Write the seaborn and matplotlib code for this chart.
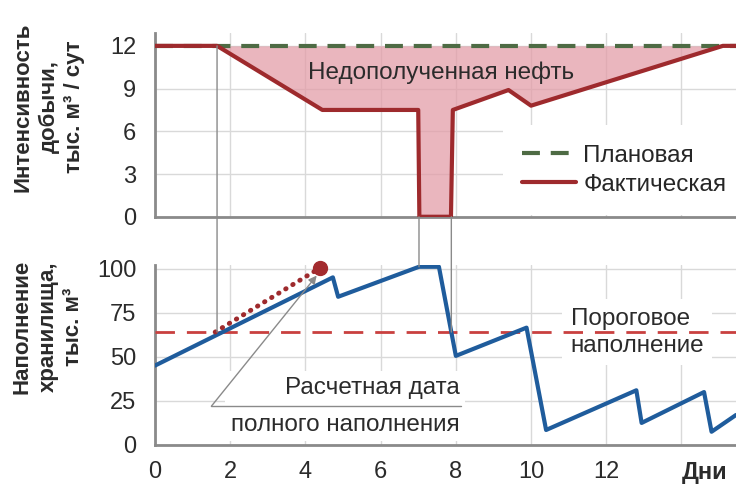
import numpy as np
import pandas as pd
import seaborn as sns
import matplotlib.pyplot as plt
from matplotlib.patches import ConnectionPatch

# top panel: production rate, thousand m3/day
day_fact = [0, 1.65, 4.45, 7.0, 7.03, 7.87, 7.92, 9.4, 10.0, 15.1, 15.45]
rate_fact = [12, 12, 7.5, 7.5, 0, 0, 7.5, 8.9, 7.8, 12, 12]
day_plan = [0, 15.45]
rate_plan = [12, 12]

# bottom panel: storage fill, thousand m3
day_store = [0, 4.73, 4.87, 7.02, 7.55, 8.0, 9.88, 10.4, 12.8, 12.94, 14.6, 14.8, 15.45]
fill_store = [45, 95, 84, 101, 101, 50.5, 66.5, 8.5, 31, 12.5, 30, 7.5, 17]
day_forecast = [1.6, 4.4]
fill_forecast = [64, 100.5]
threshold = 64

x_ticks = [0, 2, 4, 6, 8, 10, 12, 14]
x_labels = ['0', '2', '4', '6', '8', '10', '12', '']

red = '#9e2a2d'
green = '#4e6b44'
blue = '#1f5c9c'
thr_red = '#c9403f'
pink = '#e39ea8'
grey = '#8a8a8a'
txt = '#2b2b2b'

sns.set_theme(style='white')
plt.rcParams['font.family'] = ['Liberation Sans', 'DejaVu Sans']

fig = plt.figure(figsize=(7.36, 4.86), dpi=100)
ax1 = fig.add_axes([0.2106, 0.554, 0.7894, 0.378])
ax2 = fig.add_axes([0.2106, 0.0844, 0.7894, 0.3703])

fact = pd.DataFrame({'day': day_fact, 'rate': rate_fact})
plan = pd.DataFrame({'day': day_plan, 'rate': rate_plan})
store = pd.DataFrame({'day': day_store, 'fill': fill_store})

# top
ax1.fill_between(fact['day'], fact['rate'], 12, color=pink, alpha=0.75, lw=0, zorder=1)
sns.lineplot(data=plan, x='day', y='rate', ax=ax1, color=green, lw=3,
             linestyle=(0, (4.3, 2.6)), sort=False, estimator=None,
             label='Плановая', zorder=3)
sns.lineplot(data=fact, x='day', y='rate', ax=ax1, color=red, lw=3,
             sort=False, estimator=None, label='Фактическая', zorder=4)
ax1.text(7.6, 10.1, 'Недополученная нефть', ha='center', va='center',
         fontsize=17.5, color=txt, zorder=5)
ax1.legend(loc='upper left', bbox_to_anchor=(0.599, 0.499), borderaxespad=0,
           frameon=True, facecolor='white', edgecolor='none', framealpha=1,
           fancybox=False, fontsize=17.5, handlelength=2.2, handletextpad=0.3,
           borderpad=0.8, labelspacing=0.3)

# bottom
ax2.axhline(threshold, color=thr_red, lw=2, linestyle=(0, (7, 4.3)), zorder=3)
sns.lineplot(data=store, x='day', y='fill', ax=ax2, color=blue, lw=3,
             sort=False, estimator=None, zorder=4)
ax2.plot(day_forecast, fill_forecast, color=red, lw=3.5,
         linestyle=(0, (0.1, 1.6)), dash_capstyle='round', zorder=5)
ax2.plot(day_forecast[-1], fill_forecast[-1], 'o', color='#a32b2e', ms=10,
         zorder=6, clip_on=False)
ax2.text(11.05, threshold, 'Пороговое\nнаполнение', ha='left', va='center',
         fontsize=17.5, color=txt, linespacing=1.3, zorder=2,
         bbox=dict(facecolor='white', edgecolor='none', pad=6))
ax2.text(8.1, 22, 'Расчетная дата\n\nполного наполнения', ha='right',
         va='center', fontsize=17.5, color=txt, linespacing=0.8, zorder=2,
         bbox=dict(facecolor='white', edgecolor='none', pad=4))
ax2.plot([1.5, 8.15], [22, 22], color=grey, lw=1, zorder=5)
ax2.annotate('', xy=(4.3, 96), xytext=(1.5, 22), zorder=5,
             arrowprops=dict(arrowstyle='-|>', color=grey, lw=1,
                             mutation_scale=12, shrinkA=0, shrinkB=0))

# connector lines between panels
for xa, ya, yb in [(1.65, 12, 64), (7.02, 0, 101), (7.88, 0, 64)]:
    con = ConnectionPatch(xyA=(xa, ya), coordsA=ax1.transData,
                          xyB=(xa, yb), coordsB=ax2.transData,
                          color=grey, lw=1, zorder=10)
    fig.add_artist(con)

for ax, yt, ylim in [(ax1, [0, 3, 6, 9, 12], 12.9), (ax2, [0, 25, 50, 75, 100], 102)]:
    ax.set_xlim(0, 15.45)
    ax.set_ylim(0, ylim)
    ax.set_xticks(x_ticks)
    ax.set_yticks(yt)
    ax.grid(True, color='#d9d9d9', lw=1)
    ax.set_axisbelow(True)
    for s in ['top', 'right']:
        ax.spines[s].set_visible(False)
    for s in ['left', 'bottom']:
        ax.spines[s].set_color(grey)
        ax.spines[s].set_linewidth(2)
    ax.tick_params(direction='inout', length=9, width=2, color=grey,
                   labelsize=17, labelcolor=txt)
    ax.tick_params(axis='y', pad=9)
    ax.tick_params(axis='x', pad=7)
    ax.set_xlabel('')
    ax.set_ylabel('')
    ax.patch.set_alpha(0)

ax1.set_xticklabels([])
ax2.set_xticklabels(x_labels)
fig.text(705 / 736, 1 - 472 / 486, 'Дни', ha='center', va='center',
         fontsize=17, fontweight='bold', color=txt)

fig.text(49 / 736, 1 - 107 / 486, 'Интенсивность\nдобычи,\nтыс. м³ / сут',
         rotation=90, ha='center', va='center', fontsize=16,
         fontweight='bold', color=txt, linespacing=1.3)
fig.text(48 / 736, 1 - 327 / 486, 'Наполнение\nхранилища,\nтыс. м³',
         rotation=90, ha='center', va='center', fontsize=16,
         fontweight='bold', color=txt, linespacing=1.3)

fig.savefig('out.png', dpi=100)
